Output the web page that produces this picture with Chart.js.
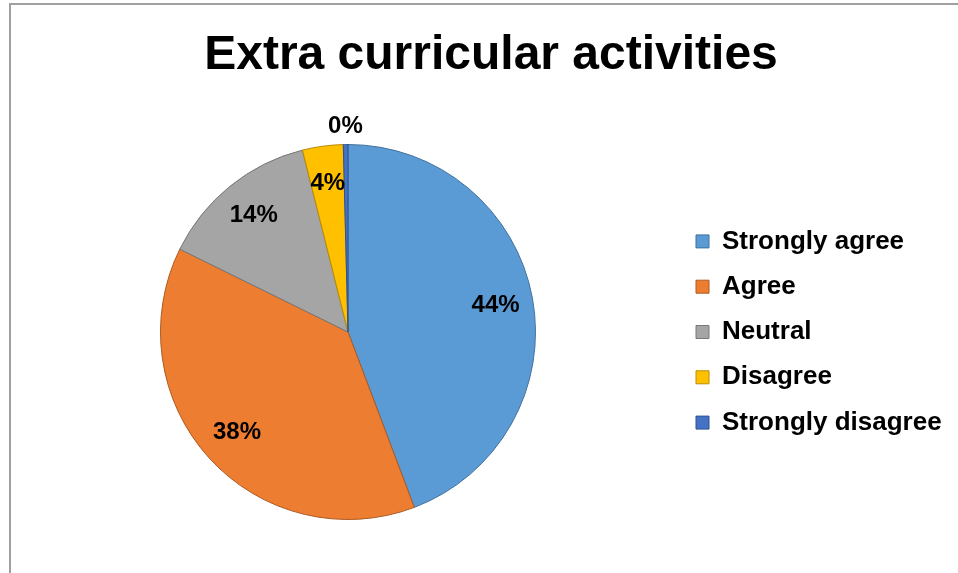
<!DOCTYPE html>
<html>
<head>
<meta charset="utf-8">
<script src="https://cdn.jsdelivr.net/npm/chart.js@4/dist/chart.umd.min.js"></script>
<style>
  html, body { margin: 0; padding: 0; background: #fff; }
  #wrap { width: 958px; height: 573px; position: relative; }
</style>
</head>
<body>
<div id="wrap"><canvas id="c" width="958" height="573"></canvas></div>
<script>
const chartTitle = 'Extra curricular activities';
const categories = ['Strongly agree', 'Agree', 'Neutral', 'Disagree', 'Strongly disagree'];
const values = [44.2, 38.0, 13.8, 3.5, 0.4];
const fillColors = ['#5B9BD5', '#ED7D31', '#A5A5A5', '#FFC000', '#4472C4'];
const edgeColors = ['#41719C', '#AE5A21', '#787878', '#BC8C00', '#2F528F'];

const FONT = '"Liberation Sans", Arial, sans-serif';
const legendFontSize = 26;
const legendBox = 13;
const legendPad = 19.3;

// measure legend text to place the legend where the reference has it
const mctx = document.createElement('canvas').getContext('2d');
mctx.font = 'bold ' + legendFontSize + 'px ' + FONT;
const tw = Math.max(...categories.map(c => mctx.measureText(c).width));
const legendW = legendPad + legendBox + legendFontSize / 2 + tw + 10;
const legendLeft = 696 - legendPad;
const padRight = 958 - legendLeft - legendW;
const padLeft = 2 * 348 - legendLeft;

const frame = {
  id: 'frame',
  beforeDraw(chart) {
    const ctx = chart.ctx;
    ctx.save();
    ctx.fillStyle = '#fff';
    ctx.fillRect(0, 0, chart.width, chart.height);
    ctx.strokeStyle = '#A0A0A0';
    ctx.lineWidth = 2;
    ctx.beginPath();
    ctx.moveTo(10, chart.height);
    ctx.lineTo(10, 4);
    ctx.lineTo(chart.width, 4);
    ctx.stroke();
    ctx.restore();
  },
  afterDraw(chart) {
    const ctx = chart.ctx;
    ctx.save();
    ctx.font = 'bold 48px ' + FONT;
    ctx.fillStyle = '#000';
    ctx.textAlign = 'center';
    ctx.textBaseline = 'alphabetic';
    ctx.fillText(chartTitle, 491, 69);
    ctx.restore();
  }
};

const sliceLabels = {
  id: 'sliceLabels',
  afterDatasetsDraw(chart) {
    const ctx = chart.ctx;
    const meta = chart.getDatasetMeta(0);
    const data = chart.data.datasets[0].data;
    const total = data.reduce((a, b) => a + b, 0);
    ctx.save();
    ctx.font = 'bold 24px ' + FONT;
    ctx.fillStyle = '#000';
    ctx.textAlign = 'center';
    ctx.textBaseline = 'middle';
    meta.data.forEach((arc, i) => {
      const p = arc.getProps(['x', 'y', 'startAngle', 'endAngle', 'outerRadius'], true);
      const mid = (p.startAngle + p.endAngle) / 2;
      const share = data[i] / total;
      const r = share < 0.01 ? p.outerRadius + 18 : p.outerRadius * 0.8;
      const lx = p.x + Math.cos(mid) * r;
      const ly = p.y + Math.sin(mid) * r;
      ctx.fillText(Math.round(share * 100) + '%', lx, ly);
    });
    ctx.restore();
  }
};

new Chart(document.getElementById('c'), {
  type: 'pie',
  data: {
    labels: categories,
    datasets: [{
      data: values,
      backgroundColor: fillColors,
      borderColor: edgeColors,
      borderWidth: 1
    }]
  },
  options: {
    responsive: false,
    animation: false,
    devicePixelRatio: 1,
    layout: { padding: { top: 144, bottom: 53, left: padLeft, right: padRight } },
    plugins: {
      title: { display: false },
      tooltip: { enabled: false },
      legend: {
        display: true,
        position: 'right',
        fullSize: false,
        align: 'center',
        labels: {
          color: '#000',
          boxWidth: legendBox,
          boxHeight: legendBox,
          padding: legendPad,
          font: { family: FONT, size: legendFontSize, weight: 'bold' }
        }
      }
    }
  },
  plugins: [frame, sliceLabels]
});
</script>
</body>
</html>
